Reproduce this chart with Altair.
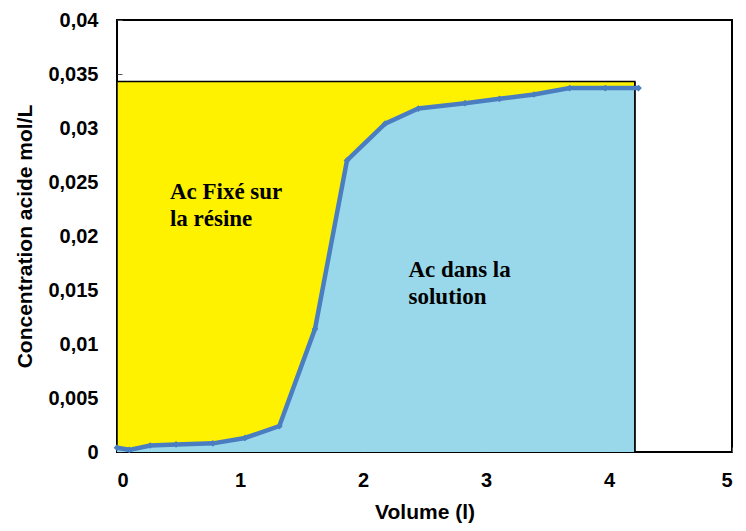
import altair as alt
import pandas as pd

# Data
volume = [0.0, 0.10, 0.27, 0.48, 0.78, 1.04, 1.32, 1.61, 1.87, 2.18, 2.45, 2.83, 3.11, 3.39, 3.68, 3.97, 4.24]
concentration = [0.0004, 0.0002, 0.0006, 0.0007, 0.0008, 0.0013, 0.0024, 0.0114, 0.0270, 0.0304,
                 0.0318, 0.0323, 0.0327, 0.0331, 0.0337, 0.0337, 0.0337]
total_volume = 4.21
total_conc = 0.0343
x_ticks = [0, 1, 2, 3, 4, 5]
y_ticks = [0, 0.005, 0.01, 0.015, 0.02, 0.025, 0.03, 0.035, 0.04]
ann_x = [0.43, 0.43, 2.37, 2.37]
ann_y = [0.0234, 0.0209, 0.0162, 0.0137]
ann_text = ["Ac Fixé sur", "la résine", "Ac dans la", "solution"]

YELLOW = "#FFF200"
LIGHTBLUE = "#99D8EA"
LINEBLUE = "#4A7EC0"
SANS = "Liberation Sans"
SERIF = "Liberation Serif"

curve = pd.DataFrame({"v": volume, "c": concentration})
area_df = pd.DataFrame({"v": [min(v, total_volume) for v in volume], "c": concentration})
rect_df = pd.DataFrame({"v": [0.0], "v2": [total_volume], "c": [0.0], "c2": [total_conc]})
ann_df = pd.DataFrame({"v": ann_x, "c": ann_y, "t": ann_text})

xscale = alt.Scale(domain=[0, 5], nice=False, zero=False)
yscale = alt.Scale(domain=[0, 0.04], nice=False)

xaxis = alt.Axis(
    title="Volume (l)", values=x_ticks, format="d", offset=-5, tickSize=5,
    tickColor="#555555", domain=False, grid=False,
    labelFont=SANS, labelFontSize=20, labelFontWeight="bold", labelColor="black",
    labelPadding=18, titleFont=SANS, titleFontSize=21, titleFontWeight="bold",
    titleColor="black", titlePadding=11,
)
yaxis = alt.Axis(
    title="Concentration acide mol/L", values=y_ticks,
    labelExpr="replace(format(datum.value, '.3~f'), '.', ',')",
    offset=-5, tickSize=5, tickColor="#555555", domain=False, grid=False,
    labelFont=SANS, labelFontSize=20, labelFontWeight="bold", labelColor="black",
    labelPadding=19, titleFont=SANS, titleFontSize=21, titleFontWeight="bold",
    titleColor="black", titlePadding=12,
)


def X(field):
    return alt.X(field, type="quantitative", scale=xscale, axis=xaxis)


def Y(field):
    return alt.Y(field, type="quantitative", scale=yscale, axis=yaxis)


rect = alt.Chart(rect_df).mark_rect(color=YELLOW, stroke="black", strokeWidth=1.5).encode(
    x=X("v"), x2="v2", y=Y("c"), y2="c2"
)
area = alt.Chart(area_df).mark_area(color=LIGHTBLUE, opacity=1).encode(
    x=X("v"), y=Y("c")
)
outline = alt.Chart(rect_df).mark_rule(color="black", strokeWidth=1.5).encode(
    x=X("v2"), y=Y("c"), y2="c2"
)
line = alt.Chart(curve).mark_line(color=LINEBLUE, strokeWidth=4.5).encode(
    x=X("v"), y=Y("c")
)
points = alt.Chart(curve).mark_point(shape="diamond", filled=True, color=LINEBLUE, size=45, opacity=1).encode(
    x=X("v"), y=Y("c")
)
texts = alt.Chart(ann_df).mark_text(
    font=SERIF, fontSize=23, fontWeight="bold", color="black", align="left", baseline="alphabetic"
).encode(x=X("v"), y=Y("c"), text="t:N")

chart = alt.layer(rect, area, outline, line, points, texts).properties(
    width=615, height=432,
    autosize=alt.AutoSizeParams(type="none"),
    padding={"left": 109, "top": 12, "right": 6, "bottom": 71},
).configure_view(stroke="black", strokeWidth=2)

chart.save("out.html", embed_options={"renderer": "svg", "actions": False})
